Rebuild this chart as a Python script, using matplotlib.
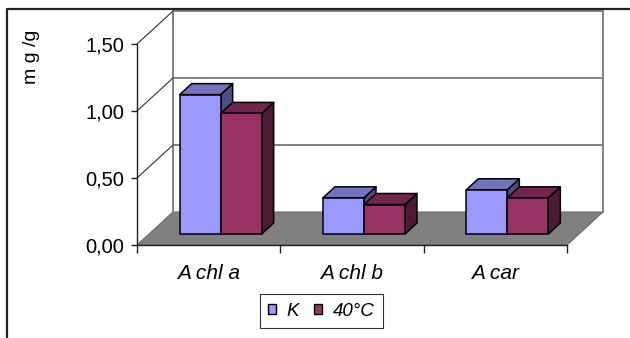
import matplotlib
matplotlib.use("Agg")
import matplotlib.pyplot as plt
from matplotlib.patches import Polygon, Rectangle, Patch
from matplotlib.lines import Line2D
from matplotlib.ticker import FixedLocator, FuncFormatter, NullFormatter

plt.rcParams['font.family'] = ['Liberation Sans', 'DejaVu Sans']

# Data
categories = ["A chl a", "A chl b", "A car"]
series_names = ["K", "40°C"]
values_k = [1.04, 0.27, 0.33]
values_40 = [0.90, 0.22, 0.27]
y_ticks = [0.0, 0.5, 1.0, 1.5]

series_values = [values_k, values_40]
face_colors = ["#9999FF", "#993366"]
top_colors = ["#7373BE", "#73264D"]
side_colors = ["#4F4F85", "#4D1A33"]

W, H, DPI = 630, 338, 100
fig = plt.figure(figsize=(W / DPI, H / DPI), dpi=DPI)

# Axes fills the figure; data units are categories (x) and mg/g (y)
ax = fig.add_axes([0, 0, 1, 1])
px_per_cat = 143.33
px_per_val = 134.0
x0_px, y0_px = 137.0, 245.0
ax.set_xlim(-x0_px / px_per_cat, (W - x0_px) / px_per_cat)
ax.set_ylim(-(H - y0_px) / px_per_val, y0_px / px_per_val)
ax.patch.set_visible(False)

n_cat = len(categories)
y_max = y_ticks[-1]
DX = 36 / px_per_cat   # depth offset of the back wall, in category units
DY = 33 / px_per_val   # depth offset of the back wall, in value units

grid_col = "#808080"

# Floor
ax.add_patch(Polygon([(0, 0), (n_cat, 0), (n_cat + DX, DY), (DX, DY)],
                     closed=True, facecolor="#808080", edgecolor="#6a6a6a",
                     lw=0.8, zorder=1))

# Back wall outline and gridlines
ax.plot([DX, DX, n_cat + DX, n_cat + DX], [DY, y_max + DY, y_max + DY, DY],
        color=grid_col, lw=1.4, zorder=1)
for t in y_ticks[1:-1]:
    ax.plot([DX, n_cat + DX], [t + DY, t + DY], color=grid_col, lw=1.4, zorder=1)
# Side wall diagonals
for t in y_ticks[1:]:
    ax.plot([0, DX], [t, t + DY], color="#303030", lw=0.8, zorder=1)

# Bars (drawn as front, top and side faces)
bar_w = 0.286
f0 = 1 / 3
ox, oy = f0 * DX, f0 * DY
bdx, bdy = DX / 3, DY / 3
for i in range(n_cat):
    start = i + 0.5 - bar_w * len(series_values) / 2
    for s, vals in enumerate(series_values):
        v = vals[i]
        xl = start + s * bar_w + ox
        xr = xl + bar_w
        kw = dict(edgecolor="black", lw=1.1, joinstyle="round", zorder=3 + i * 2 + s)
        ax.add_patch(Polygon([(xr, oy), (xr, v + oy), (xr + bdx, v + oy + bdy),
                              (xr + bdx, oy + bdy)], closed=True,
                             facecolor=side_colors[s], **kw))
        ax.add_patch(Polygon([(xl, v + oy), (xr, v + oy), (xr + bdx, v + oy + bdy),
                              (xl + bdx, v + oy + bdy)], closed=True,
                             facecolor=top_colors[s], **kw))
        ax.add_patch(Rectangle((xl, oy), bar_w, v, facecolor=face_colors[s], **kw))

# Front axes
for side in ("top", "right"):
    ax.spines[side].set_visible(False)
ax.spines["left"].set_position(("data", 0))
ax.spines["left"].set_bounds(0, y_max)
ax.spines["bottom"].set_position(("data", 0))
ax.spines["bottom"].set_bounds(0, n_cat)
ax.spines["left"].set_color("#202020")
ax.spines["bottom"].set_color("#202020")
ax.spines["left"].set_linewidth(1.0)
ax.spines["bottom"].set_linewidth(1.0)

ax.yaxis.set_major_locator(FixedLocator(y_ticks))
ax.yaxis.set_major_formatter(FuncFormatter(lambda v, p: f"{v:.2f}".replace(".", ",")))
ax.tick_params(axis="y", which="major", direction="out", length=4, width=1.0,
               pad=5, labelsize=14.5, color="#202020")

ax.xaxis.set_major_locator(FixedLocator(range(n_cat + 1)))
ax.xaxis.set_major_formatter(NullFormatter())
ax.xaxis.set_minor_locator(FixedLocator([i + 0.5 for i in range(n_cat)]))
ax.xaxis.set_minor_formatter(FuncFormatter(lambda v, p: categories[int(v)]))
ax.tick_params(axis="x", which="major", direction="out", length=6, width=1.0,
               color="#202020")
ax.tick_params(axis="x", which="minor", length=0, pad=14, labelsize=15)
for lbl in ax.get_xticklabels(minor=True):
    lbl.set_fontstyle("italic")

# Axis title
fig.text(32 / W, 1 - 57 / H, "m g /g", rotation=90, ha="center", va="center",
         fontsize=14)

# Legend
handles = [Patch(facecolor=face_colors[k], edgecolor="black", lw=1.0)
           for k in range(len(series_names))]
leg = fig.legend(handles, series_names, loc="center",
                 bbox_to_anchor=(321.5 / W, 1 - 311 / H), ncol=2,
                 frameon=True, fancybox=False, handlelength=0.4,
                 handleheight=0.45, handletextpad=0.6, columnspacing=0.8,
                 borderpad=0.45, prop=dict(style="italic", size=13.5))
leg.get_frame().set_edgecolor("black")
leg.get_frame().set_linewidth(0.8)

# Chart area border
fig.add_artist(Line2D([7 / W, 7 / W, 1.0], [0.0, 1 - 9 / H, 1 - 9 / H],
                      transform=fig.transFigure, color="#222222", lw=1.6))

fig.savefig("out.png", dpi=DPI)
